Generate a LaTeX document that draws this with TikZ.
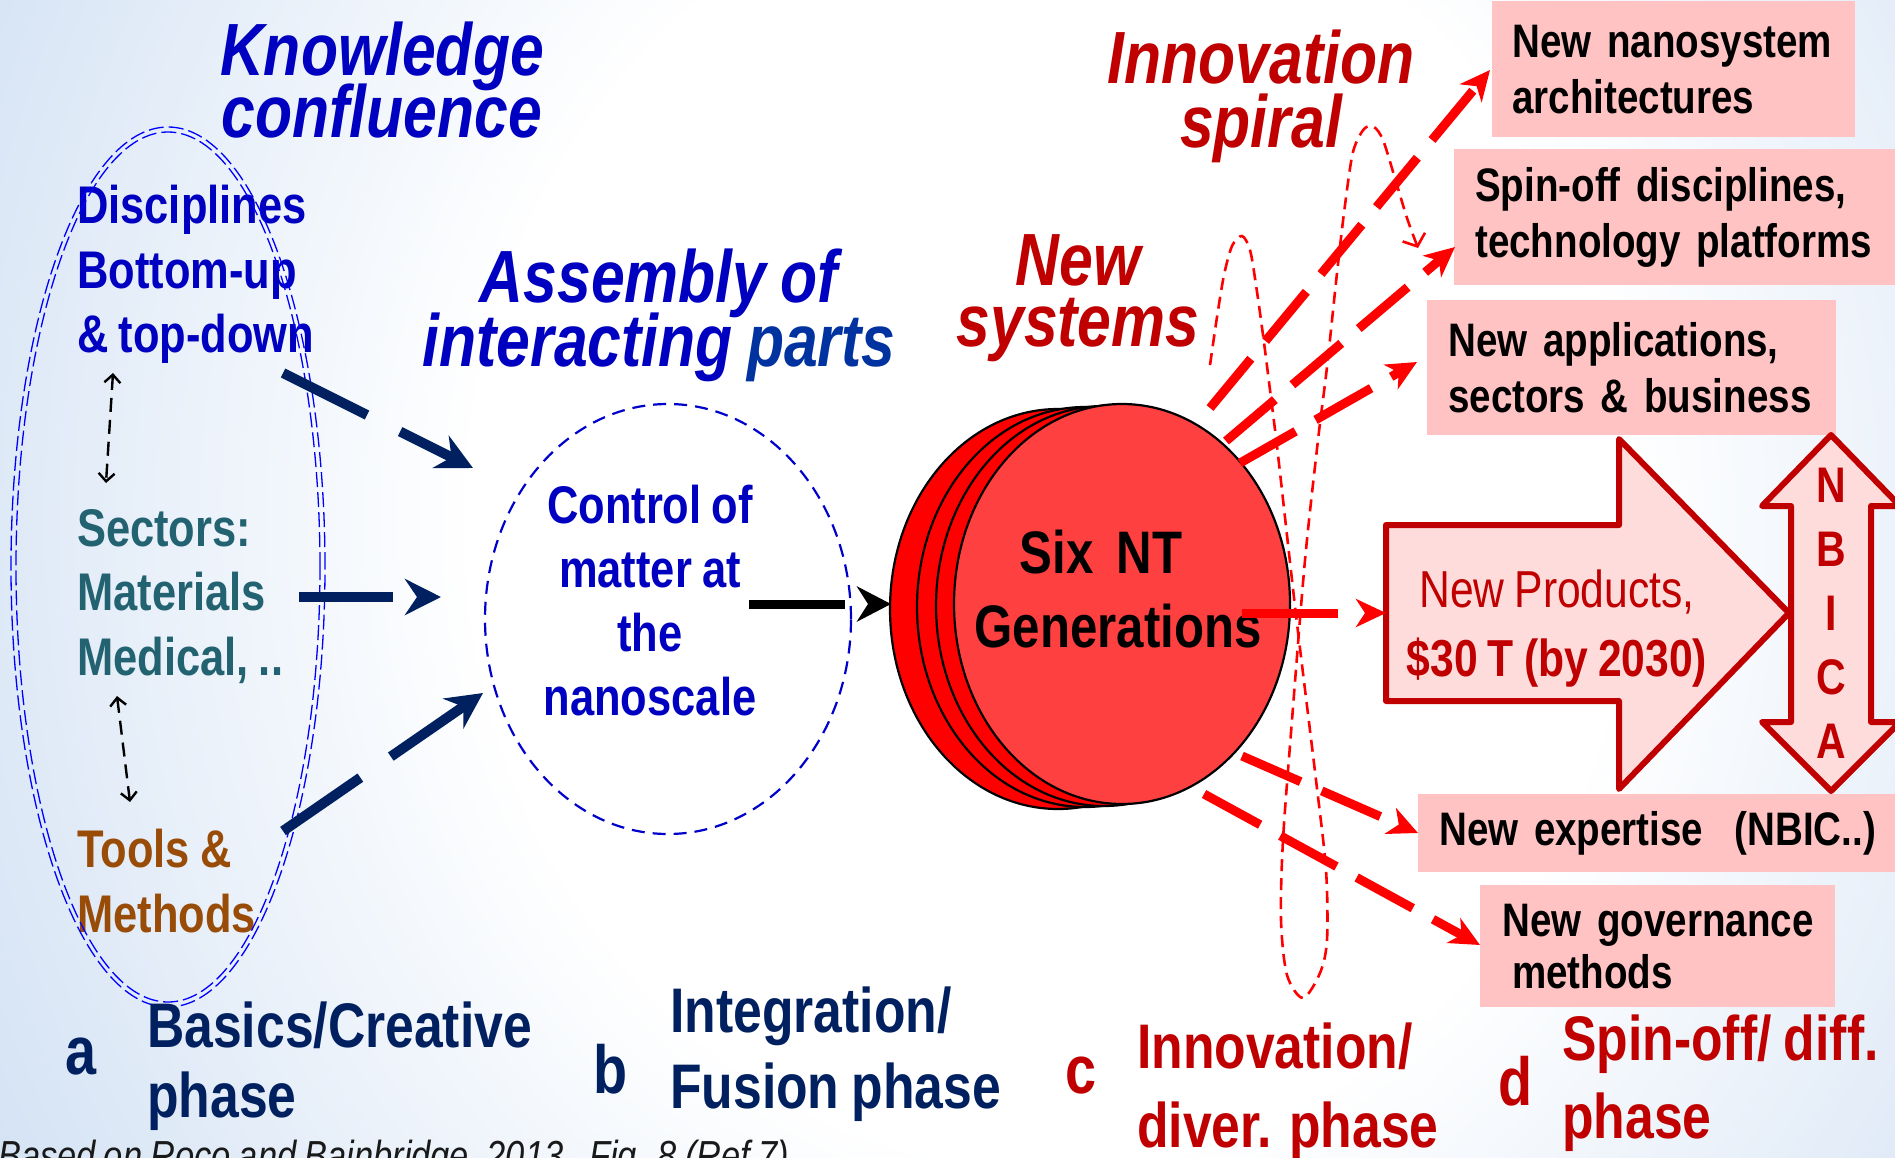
\documentclass[tikz,border=0pt]{standalone}
\usepackage{fontspec}
\setmainfont{Liberation Sans}[FakeStretch=0.82,WordSpace=0.85]
\usetikzlibrary{arrows.meta,shapes.geometric}
\lineskiplimit=-1000pt
\lineskip=0pt
\hyphenpenalty=10000
\newcommand\fsz[2]{\fontsize{#1}{#2}\selectfont}
\definecolor{kblue}{RGB}{0,0,192}
\definecolor{pblue}{RGB}{0,51,160}
\definecolor{tealtx}{RGB}{35,98,112}
\definecolor{browntx}{RGB}{153,76,8}
\definecolor{navy}{RGB}{0,32,96}
\definecolor{dred}{RGB}{192,0,0}
\definecolor{bgblue}{RGB}{166,196,232}
\definecolor{pinkbox}{RGB}{255,195,195}
\definecolor{pinkarrow}{RGB}{255,220,220}
\definecolor{discfront}{RGB}{255,64,64}
\definecolor{ellblue}{RGB}{0,0,255}
\definecolor{circblue}{RGB}{0,0,204}
\pgfdeclareradialshading{bgshade}{\pgfpoint{0bp}{0bp}}{color(0bp)=(white); color(8bp)=(white); color(26bp)=(bgblue); color(50bp)=(bgblue)}
\begin{document}
\begin{tikzpicture}[x=1pt,y=-1pt,
  ttl/.style={font=\bfseries\itshape\fsz{74}{62}, align=center, inner sep=0pt, anchor=north},
  lft/.style={font=\bfseries\fsz{53}{64.5}, align=left, inner sep=0pt, anchor=north west},
  pbox/.style={fill=pinkbox, anchor=north west, inner xsep=20pt, inner ysep=0pt, align=left, font=\bfseries\fsz{47}{56}, text=black},
  phase/.style={font=\bfseries\fsz{63}{70}, align=left, inner sep=0pt, anchor=north west},
  letter/.style={font=\bfseries\fsz{68}{70}, inner sep=0pt, anchor=base west},
  navyarr/.style={draw=navy, line width=10pt, dash pattern=on 94pt off 37pt, -{Stealth[length=36pt,width=36pt,inset=12pt]}},
  redarr/.style={draw=red, line width=9pt, dash pattern=on 64pt off 23pt, -{Stealth[length=30pt,width=28pt,inset=9pt]}},
  thinarr/.style={draw=black, line width=2.4pt, dash pattern=on 14pt off 8pt, {Straight Barb[length=8pt,width=16pt]}-{Straight Barb[length=8pt,width=16pt]}},
  spiralline/.style={draw=red, line width=2.6pt, dash pattern=on 12pt off 7pt},
  disc/.style={ellipse, draw=black, line width=2.2pt, minimum width=336pt, minimum height=400pt, inner sep=0pt, fill=red},
  blockarr/.style={draw=dred, line width=6pt, line join=round, fill=pinkarrow}
]
\useasboundingbox (0,0) rectangle (1895,1157);
\clip (0,0) rectangle (1895,1157);
\fill[bgblue] (0,0) rectangle (1895,1157);
\shade[shading=bgshade] (1050,520) ellipse (1800pt and 2000pt);

% titles
\node[ttl, text=kblue] (know) at (382,22) {Knowledge\\confluence};
\node[ttl, text=kblue, font=\bfseries\itshape\fsz{74}{64}] (assem) at (659,249) {Assembly of\\interacting {\color{pblue}parts}};
\node[ttl, text=dred, font=\bfseries\itshape\fsz{74}{64}] (innov) at (1261,30) {Innovation\\spiral};
\node[ttl, text=dred, font=\bfseries\itshape\fsz{74}{61}] (newsys) at (1078,234) {New\\systems};

% left column
\node[lft, text=kblue] (discp) at (77,185) {Disciplines\\Bottom-up\\\& top-down};
\node[lft, text=tealtx] (sect) at (77,509) {Sectors:\\Materials\\Medical, ..};
\node[lft, text=browntx, font=\bfseries\fsz{53}{65}] (tools) at (77,829) {Tools \&\\Methods};

\draw[ellblue, line width=1.3pt, dash pattern=on 15pt off 5pt] (168,567) ellipse (157pt and 440pt);
\draw[ellblue, line width=1.3pt, dash pattern=on 15pt off 5pt] (168,567) ellipse (152pt and 435pt);

\coordinate (t1s) at (113,373); \coordinate (t1e) at (106,483);
\coordinate (t2s) at (117,696); \coordinate (t2e) at (130,802);
\draw[thinarr] (t1s) -- (t1e);
\draw[thinarr] (t2s) -- (t2e);

% control circle
\node[ellipse, draw=circblue, line width=2.2pt, dash pattern=on 13pt off 8pt, minimum width=366pt, minimum height=430pt, inner sep=0pt] (ctrl) at (668,619) {};
\node[font=\bfseries\fsz{53}{64}, text=kblue, align=center, inner sep=0pt, anchor=north] (ctrltxt) at (650,485) {Control of\\matter at\\the\\nanoscale};

% navy arrows
\coordinate (n1s) at (283,373); \coordinate (n1e) at (473,468);
\coordinate (n2s) at (299,597); \coordinate (n2e) at (441,597);
\coordinate (n3s) at (283,831); \coordinate (n3e) at (483,693);
\draw[navyarr] (n1s) -- (n1e);
\draw[navyarr] (n2s) -- (n2e);
\draw[navyarr] (n3s) -- (n3e);

% discs
\node[disc] (d1) at (1058,609) {};
\node[disc] (d2) at (1085,607) {};
\node[disc] (d3) at (1104,606) {};
\node[disc, fill=discfront] (d4) at (1122,604) {};
\node[font=\bfseries\fsz{60}{74}, align=center, inner sep=0pt, anchor=north] (six) at (1118,530) {Six\ \ NT\hspace*{34pt}\\Generations};

% black arrow
\coordinate (bks) at (749,604);
\coordinate (bke) at (891,604);
\draw[draw=black, line width=9pt, dash pattern=on 96pt off 40pt, -{Stealth[length=34pt,width=35pt,inset=11pt]}] (bks) -- (bke);

% spiral
\draw[spiralline, -{Straight Barb[length=10pt,width=24pt]}] plot[smooth, tension=0.5] coordinates {
 (1210,365) (1217,317) (1224,275) (1232,246) (1242,236) (1250,250) (1256,285) (1263,335) (1270,390) (1278,455) (1296,615) (1316,780) (1326,870) (1327,940) (1320,973) (1303,998) (1287,975) (1281,920) (1283,840) (1292,720) (1305,560) (1318,440) (1327,367) (1337,273) (1345,205) (1353,152) (1364,129) (1374,127) (1383,140) (1394,175) (1407,218) (1418,248)};

% boxes
\node[pbox, minimum width=363pt, minimum height=136pt, text width=323pt] (b1) at (1492,1) {New nanosystem\\architectures};
\node[pbox, inner xsep=21pt, minimum width=446pt, minimum height=136pt, text width=404pt] (b2) at (1454,149) {Spin-off disciplines,\\technology platforms};
\node[pbox, inner xsep=21pt, minimum width=409pt, minimum height=135pt, text width=367pt] (b3) at (1427,300) {New applications,\\sectors \& business};
\node[pbox, inner xsep=21pt, minimum width=482pt, minimum height=78pt, text width=440pt] (b4) at (1418,794) {New expertise\ \ (NBIC..)};
\node[pbox, inner xsep=22pt, minimum width=355pt, minimum height=122pt, text width=311pt, font=\bfseries\fsz{47}{52}] (b5) at (1480,885) {\mbox{New governance}\\\hspace*{10pt}methods};

% big arrow
\draw[blockarr] (1386,525) -- (1619,525) -- (1619,439) -- (1789,613) -- (1619,789) -- (1619,701) -- (1386,701) -- cycle;
\node[font=\fsz{52}{69}, text=dred, align=center, inner sep=0pt, anchor=north] (prod) at (1557,570) {New Products,\\\textbf{\$30 T (by 2030)}};
\coordinate (prodin) at (1386,613);

% NBICA
\draw[blockarr] (1831,435) -- (1900,506) -- (1871,506) -- (1871,722) -- (1900,722) -- (1831,791) -- (1762,722) -- (1791,722) -- (1791,506) -- (1762,506) -- cycle;
\node[font=\bfseries\fsz{50}{64}, text=dred, align=center, inner sep=0pt, anchor=north] (nbica) at (1831,468) {N\\B\\I\\C\\A};

% red arrows
\coordinate (r1s) at (1210,408); \coordinate (r1e) at (1490,70);
\coordinate (r2s) at (1226,441); \coordinate (r2e) at (1455,247);
\coordinate (r3s) at (1240,463); \coordinate (r3e) at (1417,362);
\coordinate (r4s) at (1242,613);
\coordinate (r5s) at (1242,756); \coordinate (r5e) at (1418,833);
\coordinate (r6s) at (1204,794); \coordinate (r6e) at (1480,945);
\draw[redarr] (r1s) -- (r1e);
\draw[redarr] (r2s) -- (r2e);
\draw[redarr] (r3s) -- (r3e);
\draw[redarr, dash pattern=on 96pt off 40pt] (r4s) -- (prodin);
\draw[redarr] (r5s) -- (r5e);
\draw[redarr] (r6s) -- (r6e);

% phases
\node[letter, text=navy] (la) at (65,1074) {a};
\node[phase, text=navy] (basics) at (147,1002) {Basics/Creative\\phase};
\node[letter, text=navy] (lb) at (593,1093) {b};
\node[phase, text=navy, font=\bfseries\fsz{63}{76}] (integ) at (670,987) {Integration/\\Fusion phase};
\node[letter, text=dred] (lc) at (1065,1093) {c};
\node[phase, text=dred, font=\bfseries\fsz{63}{79}] (innovph) at (1137,1023) {Innovation/\\diver. phase};
\node[letter, text=dred] (ld) at (1498,1105) {d};
\node[phase, text=dred, font=\bfseries\fsz{63}{78}] (spinph) at (1562,1015) {Spin-off/ diff.\\phase};

\node[font=\itshape\fsz{42}{50}, text=black!90, anchor=base west, inner sep=0pt] (foot) at (-2,1170) {Based on Roco and Bainbridge, 2013 , Fig. 8 (Ref 7)};
\end{tikzpicture}
\end{document}
